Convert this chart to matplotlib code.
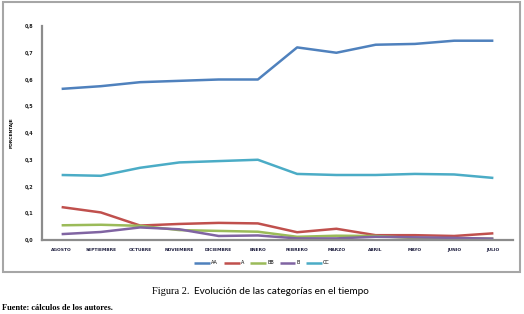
import matplotlib
matplotlib.use("Agg")
import matplotlib.pyplot as plt
from matplotlib.patches import Rectangle

# Data
meses = ["AGOSTO", "SEPTIEMBRE", "OCTUBRE", "NOVIEMBRE", "DICIEMBRE", "ENERO",
         "FEBRERO", "MARZO", "ABRIL", "MAYO", "JUNIO", "JULIO"]
aa = [0.565, 0.575, 0.59, 0.595, 0.60, 0.60, 0.72, 0.70, 0.73, 0.733, 0.745, 0.745]
a = [0.123, 0.103, 0.054, 0.06, 0.064, 0.062, 0.029, 0.042, 0.018, 0.018, 0.015, 0.025]
bb = [0.055, 0.057, 0.053, 0.037, 0.034, 0.031, 0.012, 0.016, 0.015, 0.007, 0.006, 0.005]
b = [0.022, 0.03, 0.047, 0.04, 0.015, 0.017, 0.006, 0.006, 0.012, 0.01, 0.008, 0.005]
cc = [0.243, 0.24, 0.27, 0.29, 0.295, 0.30, 0.247, 0.243, 0.243, 0.247, 0.245, 0.232]
yticks = [0.0, 0.1, 0.2, 0.3, 0.4, 0.5, 0.6, 0.7, 0.8]

series = [("AA", aa, "#4F81BD"), ("A", a, "#C0504D"), ("BB", bb, "#9BBB59"),
          ("B", b, "#8064A2"), ("CC", cc, "#4BACC6")]

fig = plt.figure(figsize=(5.24, 3.14), dpi=100)

# chart frame
fig.patches.append(Rectangle((3 / 524, 1 - 272 / 314), 517 / 524, 270 / 314,
                             transform=fig.transFigure, fill=False,
                             edgecolor="#a6a6a6", linewidth=1.5))

ax = fig.add_axes([42 / 524, 1 - 240 / 314, 471 / 524, 214 / 314])
x = list(range(len(meses)))
for name, vals, col in series:
    ax.plot(x, vals, color=col, linewidth=1.8, label=name, solid_capstyle="butt")

ax.set_xlim(-0.5, len(meses) - 0.5)
ax.set_ylim(0, 0.8)
ax.set_xticks(x)
ax.set_xticklabels(meses, fontsize=3.2, fontweight="bold", color="#1f1f3f")
ax.set_yticks(yticks)
ax.set_yticklabels([f"{v:.1f}".replace(".", ",") for v in yticks],
                   fontsize=3.5, fontweight="bold", color="#1f1f1f")
ax.tick_params(length=0, pad=6)
ax.set_ylabel("PORCENTAJE", fontsize=3.2, fontweight="bold", labelpad=8)
for s in ["top", "right"]:
    ax.spines[s].set_visible(False)
for s in ["left", "bottom"]:
    ax.spines[s].set_color("#8c8c8c")
    ax.spines[s].set_linewidth(1.6)

ax.legend(loc="center", bbox_to_anchor=(0.5, 1 - 263 / 314),
          bbox_transform=fig.transFigure, ncol=5, frameon=False,
          fontsize=3.5, handlelength=3.2, handletextpad=0.3, columnspacing=1.2)

t1 = fig.text(152 / 524, 1 - 291 / 314, "Figura 2.", family="Liberation Serif",
              fontsize=7.5, va="center")
fig.text(194 / 524, 1 - 291 / 314, "Evolución de las categorías en el tiempo",
         family="Lato", fontsize=7.2, va="center")
fig.text(2 / 524, 1 - 308 / 314, "Fuente: cálculos de los autores.",
         family="Liberation Serif", fontweight="bold", fontsize=6, va="center")

fig.savefig("out.png", dpi=100)
